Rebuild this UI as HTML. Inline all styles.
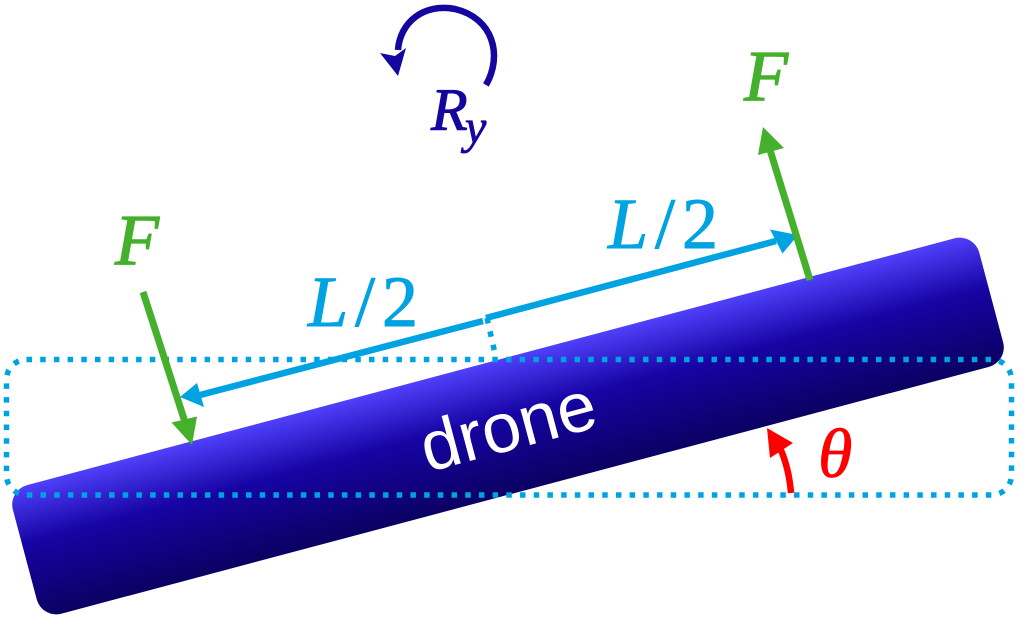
<!DOCTYPE html>
<html>
<head>
<meta charset="utf-8">
<style>
  html,body{margin:0;padding:0;background:#fff;}
  svg{display:block;}
</style>
</head>
<body>
<svg width="1017" height="618" viewBox="0 0 1017 618" xmlns="http://www.w3.org/2000/svg">
  <defs>
    <linearGradient id="bar" x1="0" y1="0" x2="0" y2="1">
      <stop offset="0" stop-color="#4f40fb"/>
      <stop offset="0.42" stop-color="#1604a4"/>
      <stop offset="1" stop-color="#0b0062"/>
    </linearGradient>
  </defs>

  <!-- drone bar -->
  <g transform="translate(508,426) rotate(-14.9)">
    <rect x="-500" y="-66.5" width="1000" height="133" rx="20" ry="20" fill="url(#bar)"/>
    <text x="0" y="24" text-anchor="middle" font-family="'Liberation Sans', Arial, sans-serif" font-size="70" fill="#ffffff">drone</text>
  </g>

  <!-- dotted rectangle -->
  <rect x="6.5" y="359.5" width="1005" height="135.5" rx="20" ry="20" fill="none" stroke="#00a3e2" stroke-width="5.5" stroke-dasharray="5.5 8.2"/>

  <!-- dotted short segment -->
  <line x1="487" y1="318" x2="496" y2="358" stroke="#00a3e2" stroke-width="5.5" stroke-dasharray="5.5 8.2"/>

  <!-- L/2 arrows -->
  <line x1="483" y1="321" x2="200" y2="395" stroke="#00a3e2" stroke-width="6.5"/>
  <polygon points="180,397 197,383 204,407" fill="#00a3e2"/>
  <line x1="486" y1="318" x2="776" y2="241" stroke="#00a3e2" stroke-width="6.5"/>
  <polygon points="798,235 770,229.5 782.5,253.5" fill="#00a3e2"/>

  <!-- green force arrows -->
  <line x1="143" y1="292" x2="185" y2="422" stroke="#45b02b" stroke-width="7"/>
  <polygon points="192,445 171.5,422.5 197,416.5" fill="#45b02b"/>
  <line x1="810" y1="280" x2="770" y2="150" stroke="#45b02b" stroke-width="7"/>
  <polygon points="763,127 758,155 784,148" fill="#45b02b"/>

  <!-- labels -->
  <text x="137" y="264" text-anchor="middle" font-family="'Liberation Serif', serif" font-style="italic" font-size="72" fill="#45b02b" stroke="#45b02b" stroke-width="1.2">F</text>
  <text x="766" y="100" text-anchor="middle" font-family="'Liberation Serif', serif" font-style="italic" font-size="72" fill="#45b02b" stroke="#45b02b" stroke-width="1.2">F</text>

  <text x="308" y="326" textLength="110" lengthAdjust="spacing" font-family="'Liberation Serif', serif" font-size="72" fill="#00a3e2" stroke="#00a3e2" stroke-width="1"><tspan font-style="italic">L</tspan>/2</text>
  <text x="608" y="248" textLength="110" lengthAdjust="spacing" font-family="'Liberation Serif', serif" font-size="72" fill="#00a3e2" stroke="#00a3e2" stroke-width="1"><tspan font-style="italic">L</tspan>/2</text>

  <!-- rotation arrow -->
  <path d="M 486 85 C 503 55 493 18 455 9 C 424 3 400 22 398 50" fill="none" stroke="#14069e" stroke-width="6.5"/>
  <polygon points="380,53 398,76 406,48 395,56" fill="#14069e"/>
  <text x="431" y="130" font-family="'Liberation Serif', serif" font-style="italic" font-size="60" fill="#14069e" stroke="#14069e" stroke-width="1">R</text>
  <text x="465" y="143" font-family="'Liberation Serif', serif" font-style="italic" font-size="48" fill="#14069e" stroke="#14069e" stroke-width="0.8">y</text>

  <!-- theta arrow -->
  <path d="M 791 493 Q 789 468 780 448" fill="none" stroke="#ff0000" stroke-width="6.5"/>
  <polygon points="767,428 770,458 793,443" fill="#ff0000"/>
  <text x="818" y="477" font-family="'Liberation Serif', serif" font-style="italic" font-size="70" fill="#ff0000" stroke="#ff0000" stroke-width="0.8">θ</text>
</svg>
</body>
</html>
